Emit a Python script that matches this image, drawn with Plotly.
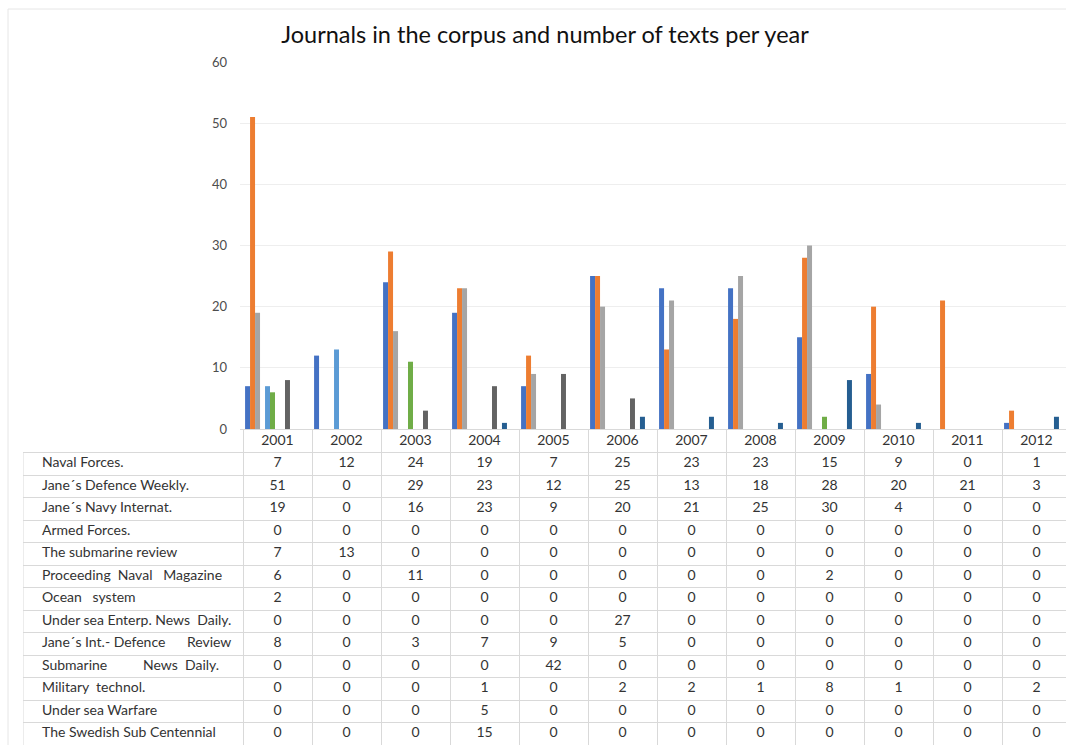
import plotly.graph_objects as go

# ---------------- data ----------------
years = ["2001", "2002", "2003", "2004", "2005", "2006",
         "2007", "2008", "2009", "2010", "2011", "2012"]

journals = [
    "Naval Forces.",
    "Jane´s Defence Weekly.",
    "Jane´s Navy Internat.",
    "Armed Forces.",
    "The submarine review",
    "Proceeding  Naval   Magazine",
    "Ocean   system",
    "Under sea Enterp. News  Daily.",
    "Jane´s Int.- Defence      Review",
    "Submarine          News  Daily.",
    "Military  technol.",
    "Under sea Warfare",
    "The Swedish Sub Centennial",
]

naval_forces = [7, 12, 24, 19, 7, 25, 23, 23, 15, 9, 0, 1]
janes_defence_weekly = [51, 0, 29, 23, 12, 25, 13, 18, 28, 20, 21, 3]
janes_navy_internat = [19, 0, 16, 23, 9, 20, 21, 25, 30, 4, 0, 0]
armed_forces = [0, 0, 0, 0, 0, 0, 0, 0, 0, 0, 0, 0]
submarine_review = [7, 13, 0, 0, 0, 0, 0, 0, 0, 0, 0, 0]
proceeding_naval = [6, 0, 11, 0, 0, 0, 0, 0, 2, 0, 0, 0]
ocean_system = [2, 0, 0, 0, 0, 0, 0, 0, 0, 0, 0, 0]
undersea_enterp = [0, 0, 0, 0, 0, 27, 0, 0, 0, 0, 0, 0]
janes_int_defence = [8, 0, 3, 7, 9, 5, 0, 0, 0, 0, 0, 0]
submarine_news = [0, 0, 0, 0, 42, 0, 0, 0, 0, 0, 0, 0]
military_technol = [0, 0, 0, 1, 0, 2, 2, 1, 8, 1, 0, 2]
undersea_warfare = [0, 0, 0, 5, 0, 0, 0, 0, 0, 0, 0, 0]
swedish_sub = [0, 0, 0, 15, 0, 0, 0, 0, 0, 0, 0, 0]

series = [naval_forces, janes_defence_weekly, janes_navy_internat, armed_forces,
          submarine_review, proceeding_naval, ocean_system, undersea_enterp,
          janes_int_defence, submarine_news, military_technol, undersea_warfare,
          swedish_sub]

# ---------------- style ----------------
colors = ["#4472C4", "#ED7D31", "#A5A5A5", "#FFC000", "#5B9BD5", "#70AD47",
          "#264478", "#9E480E", "#636363", "#997300", "#255E91", "#43682B",
          "#698ED0"]
# series not drawn as bars in the original chart (slots kept)
hidden = {6, 7, 9, 11, 12}

W, H = 1066, 745
FONT = "Lato, 'Open Sans', sans-serif"
TXT = "#333333"
GRID_TBL = "#d9d9d9"

PITCH = 69.0          # px per year column
FIRST_B = 243.0       # px of first year boundary
PLOT_L = 240.0
TBL_L = 23.0

xr_right = -0.5 + (W - FIRST_B) / PITCH
x_bar_left = -0.5 - (FIRST_B - PLOT_L) / PITCH
x_tbl_left = -0.5 - (FIRST_B - TBL_L) / PITCH

fig = go.Figure()

xpos = list(range(len(years)))
for i, (name, vals) in enumerate(zip(journals, series)):
    col = "rgba(0,0,0,0)" if i in hidden else colors[i]
    fig.add_trace(go.Bar(
        x=xpos, y=vals, name=name, marker_color=col,
        marker_line_width=0, xaxis="x", yaxis="y",
        hoverinfo="skip" if i in hidden else None,
    ))

# ---- data table (header + body) on its own axes ----
fig.add_trace(go.Scatter(
    x=xpos, y=[-1] * len(years), text=years, mode="text",
    textposition="middle center",
    textfont=dict(family=FONT, size=14, color=TXT),
    xaxis="x2", yaxis="y2", hoverinfo="skip", cliponaxis=False,
    showlegend=False,
))
label_x = -0.5 + (42 - FIRST_B) / PITCH
fig.add_trace(go.Scatter(
    x=[label_x] * len(journals), y=list(range(len(journals))), text=journals,
    mode="text", textposition="middle right",
    textfont=dict(family=FONT, size=14, color=TXT),
    xaxis="x2", yaxis="y2", hoverinfo="skip", cliponaxis=False,
    showlegend=False,
))
cx, cy, ct = [], [], []
for r, vals in enumerate(series):
    for c, v in enumerate(vals):
        cx.append(c)
        cy.append(r)
        ct.append(str(v))
fig.add_trace(go.Scatter(
    x=cx, y=cy, text=ct, mode="text", textposition="middle center",
    textfont=dict(family=FONT, size=14, color=TXT),
    xaxis="x2", yaxis="y2", hoverinfo="skip", cliponaxis=False,
    showlegend=False,
))

fig.update_layout(
    width=W, height=H,
    margin=dict(l=0, r=0, t=0, b=0),
    paper_bgcolor="white", plot_bgcolor="rgba(0,0,0,0)",
    barmode="group", bargap=0.06, bargroupgap=0,
    showlegend=False,
    title=dict(
        text="Journals in the corpus and number of texts per year",
        x=545 / W, y=1 - 35 / H, xref="paper", yref="paper",
        xanchor="center", yanchor="middle",
        font=dict(family=FONT, size=23.5, color="#111111"),
    ),
    xaxis=dict(
        domain=[PLOT_L / W, 1], range=[x_bar_left, xr_right],
        showgrid=False, zeroline=False, showticklabels=False,
        showline=True, linecolor=GRID_TBL, linewidth=1, ticks="",
        automargin=False,
    ),
    yaxis=dict(
        domain=[1 - 429 / H, 1 - 62 / H], range=[0, 60], dtick=10,
        showgrid=True, gridcolor="#eeeeee", gridwidth=1, zeroline=False,
        showline=False, ticks="", ticklabelstandoff=12,
        tickfont=dict(family=FONT, size=13, color="#4d4d4d"),
        automargin=False,
    ),
    xaxis2=dict(
        domain=[TBL_L / W, 1], range=[x_tbl_left, xr_right],
        tickmode="array", tickvals=[k - 0.5 for k in range(len(years) + 1)],
        showgrid=True, gridcolor=GRID_TBL, gridwidth=1,
        zeroline=False, showticklabels=False, showline=False, ticks="",
        anchor="y2", automargin=False,
    ),
    yaxis2=dict(
        domain=[0, 1 - 430 / H], range=[len(journals) - 0.5, -1.5],
        tickmode="array", tickvals=[k - 0.5 for k in range(len(journals) + 1)],
        showgrid=True, gridcolor=GRID_TBL, gridwidth=1,
        zeroline=False, showticklabels=False, showline=False, ticks="",
        anchor="x2", automargin=False,
    ),
    shapes=[
        dict(type="line", xref="x2", yref="y2", x0=x_tbl_left, x1=x_tbl_left,
             y0=-0.5, y1=len(journals) - 0.5,
             line=dict(color=GRID_TBL, width=1)),
        dict(type="line", xref="paper", yref="paper",
             x0=8 / W, x1=8 / W, y0=0, y1=1 - 9 / H,
             line=dict(color="#e6e6e6", width=1), layer="below"),
        dict(type="line", xref="paper", yref="paper",
             x0=8 / W, x1=1, y0=1 - 9 / H, y1=1 - 9 / H,
             line=dict(color="#e6e6e6", width=1), layer="below"),
    ],
)

fig.write_html("out.html")
